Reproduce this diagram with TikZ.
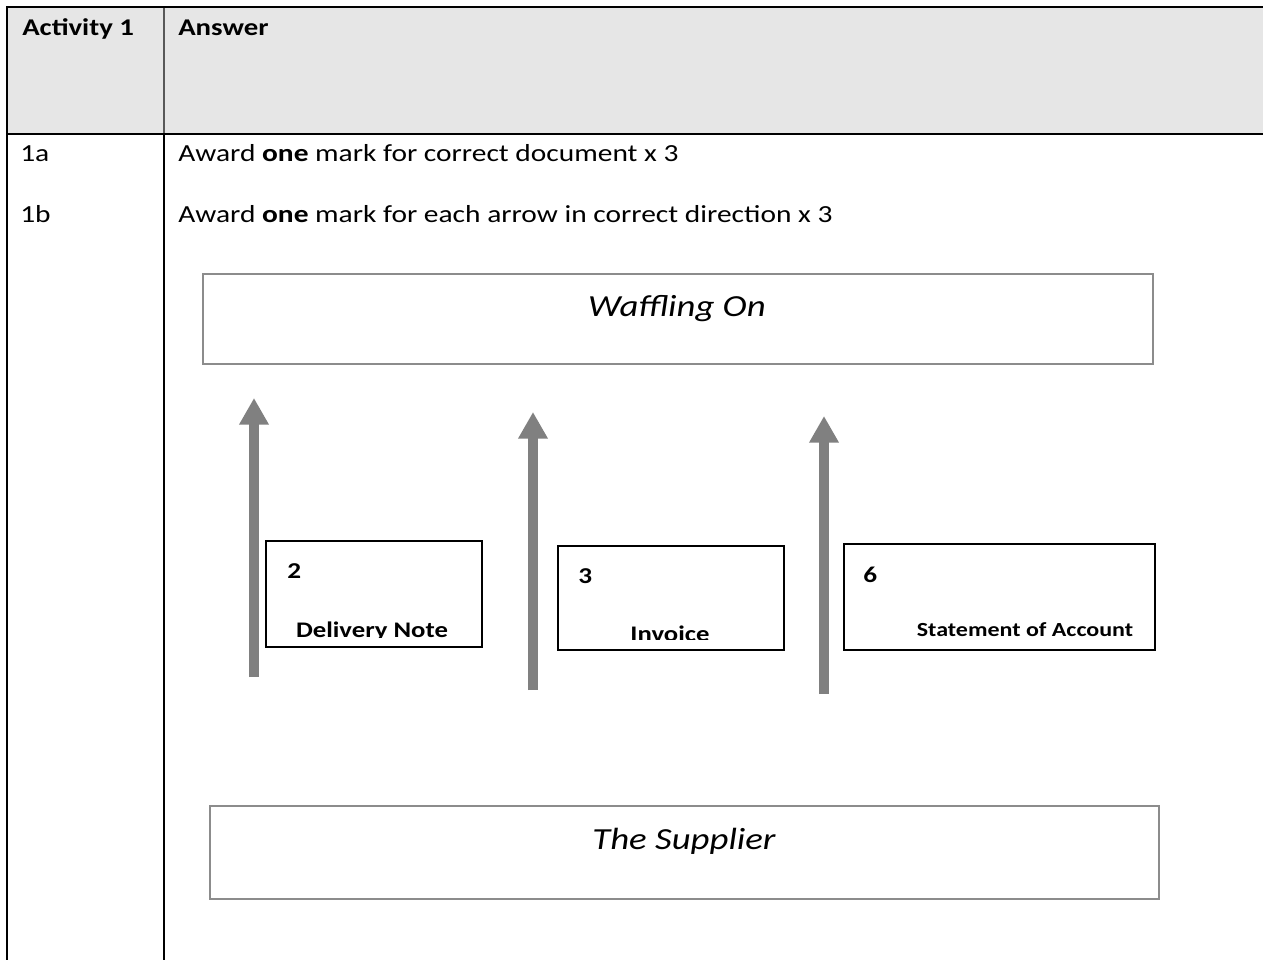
\documentclass[tikz,border=0pt]{standalone}
\usepackage{fontspec}
\setmainfont{Carlito}[FakeStretch=1.2]
\usetikzlibrary{arrows.meta}
\definecolor{hdrfill}{HTML}{E6E6E6}
\definecolor{boxgray}{HTML}{8C8C8C}
\definecolor{arrgray}{HTML}{808080}
\definecolor{divgray}{HTML}{595959}
\begin{document}
\begin{tikzpicture}[x=0.75pt,y=-0.75pt,
  rule/.style={line width=1.5pt,black},
  txt/.style={anchor=base west,inner sep=0pt,font=\fontsize{18.4}{20}\selectfont},
  hdrtxt/.style={anchor=base west,inner sep=0pt,font=\bfseries\fontsize{18}{21}\selectfont},
  partybox/.style={draw=boxgray,line width=1.5pt,anchor=north west,inner sep=0pt},
  partytxt/.style={anchor=base,inner sep=0pt,font=\itshape\fontsize{23}{26}\selectfont},
  docbox/.style={draw=black,line width=1.4pt,anchor=north west,inner sep=0pt,fill=white},
  numtxt/.style={anchor=base west,inner sep=0pt,font=\bfseries\fontsize{17}{19}\selectfont},
  doctxt/.style={anchor=base,inner sep=0pt,font=\bfseries\fontsize{16.7}{19}\selectfont},
  flow/.style={draw=arrgray,line width=7pt,-{Triangle[width=21pt,length=20pt]}}
]
\useasboundingbox (0,0) rectangle (1263,960);
\fill[white] (0,0) rectangle (1263,960);
% table
\fill[hdrfill] (7,7) rectangle (1263,134);
\draw[divgray,line width=1.5pt] (164,7) -- (164,134);
\draw[rule] (7,7) -- (1263,7);
\draw[rule] (7,134) -- (1263,134);
\draw[rule] (7,6) -- (7,960);
\draw[rule] (164,134) -- (164,960);
\node[hdrtxt] (h1) at (22,36) {Activity 1};
\node[hdrtxt] (h2) at (178,36) {Answer};
\node[txt] (r1a) at (20,161) {1a};
\node[txt] (t1a) at (178,161) {Award \textbf{one} mark for correct document x 3};
\node[txt] (r1b) at (20,222) {1b};
\node[txt] (t1b) at (178,222) {Award \textbf{one} mark for each arrow in correct direction x 3};
% parties
\node[partybox,minimum width=712.5pt,minimum height=67.5pt] (waff) at (202,273) {};
\node[partytxt] (wafft) at (677,316) {Waffling On};
\node[partybox,minimum width=711.75pt,minimum height=69.75pt] (supp) at (209,805) {};
\node[partytxt] (suppt) at (684,849) {The Supplier};
% arrows
\coordinate (a1s) at (254,677); \coordinate (a1e) at (254,398);
\coordinate (a2s) at (533,690); \coordinate (a2e) at (533,412);
\coordinate (a3s) at (824,694); \coordinate (a3e) at (824,416);
\draw[flow] (a1s) -- (a1e);
\draw[flow] (a2s) -- (a2e);
\draw[flow] (a3s) -- (a3e);
% documents
\node[docbox,minimum width=162pt,minimum height=79.5pt] (d1) at (265,540) {};
\node[docbox,minimum width=169.5pt,minimum height=78pt] (d2) at (557,545) {};
\node[docbox,minimum width=233.25pt,minimum height=79.5pt] (d3) at (843,543) {};
\node[numtxt] (n1) at (287,578) {2};
\node[numtxt] (n2) at (578,583) {3};
\node[numtxt] (n3) at (863,582) {6};
\begin{scope}
\clip (265,540) rectangle (481,637);
\node[doctxt] (l1) at (372,637) {Delivery Note};
\end{scope}
\begin{scope}
\clip (557,545) rectangle (783,639);
\node[doctxt] (l2) at (670,641) {Invoice};
\end{scope}
\node[doctxt,font=\bfseries\fontsize{15}{17}\selectfont] (l3) at (1025,636) {Statement of Account};
\end{tikzpicture}
\end{document}
